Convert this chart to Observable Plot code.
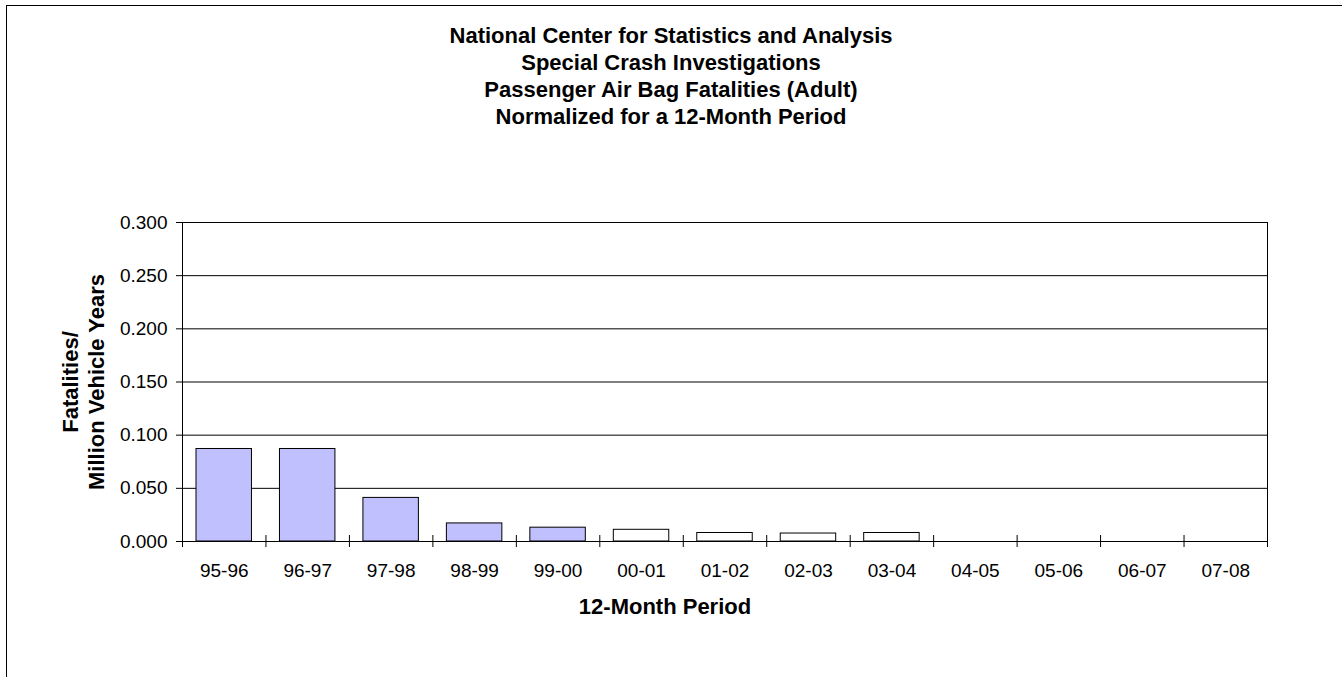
<!DOCTYPE html>
<html>
<head>
<meta charset="utf-8">
<script src="https://cdn.jsdelivr.net/npm/d3@7"></script>
<script src="https://cdn.jsdelivr.net/npm/@observablehq/plot@0.6"></script>
<style>
  body { margin: 0; background: #fff; }
  #wrap { position: relative; width: 1342px; height: 677px; overflow: hidden; font-family: "Liberation Sans", Arial, sans-serif; color: #000; }
  #frame { position: absolute; left: 6px; top: 5px; width: 1500px; height: 900px; border-left: 1.5px solid #000; border-top: 1.5px solid #000; }
  #title { position: absolute; left: 0; top: 22px; width: 1342px; text-align: center; font-weight: bold; font-size: 22px; line-height: 27px; }
  #xlabel { position: absolute; left: 465px; width: 400px; top: 596px; text-align: center; font-weight: bold; font-size: 22px; line-height: 22px; }
  #chart { position: absolute; left: 0; top: 0; }
</style>
</head>
<body>
<div id="wrap">
  <div id="frame"></div>
  <div id="chart"></div>
  <div id="title"></div>
  <div id="xlabel"></div>
</div>
<script>
const titleLines = [
  "National Center for Statistics and Analysis",
  "Special Crash Investigations",
  "Passenger Air Bag Fatalities (Adult)",
  "Normalized for a 12-Month Period"
];
const xAxisTitle = "12-Month Period";
const yAxisTitle = "Fatalities/\nMillion Vehicle Years";
const categories = ["95-96","96-97","97-98","98-99","99-00","00-01","01-02","02-03","03-04","04-05","05-06","06-07","07-08"];
const values = [0.087, 0.087, 0.041, 0.017, 0.013, 0.011, 0.008, 0.0075, 0.008, 0, 0, 0, 0];
const yTicks = [0, 0.05, 0.1, 0.15, 0.2, 0.25, 0.3];

const rows = categories.map((c, i) => ({ i, category: c, value: values[i] }));
const boundaries = d3.range(categories.length + 1);
const fillFor = d => d.i < 5 ? "#c0c0ff" : "#ffffff";

document.getElementById("title").innerHTML = titleLines.join("<br>");
document.getElementById("xlabel").textContent = xAxisTitle;

const chart = Plot.plot({
  width: 1342,
  height: 677,
  marginLeft: 182,
  marginRight: 75,
  marginTop: 222,
  marginBottom: 136,
  style: { background: "transparent", fontFamily: "Liberation Sans, Arial, sans-serif", color: "#000" },
  x: { type: "linear", domain: [0, categories.length], axis: null },
  y: { domain: [0, 0.3], axis: null },
  marks: [
    Plot.gridY(yTicks, { stroke: "#000", strokeOpacity: 1 }),
    Plot.axisY({ ticks: yTicks, tickFormat: d3.format(".3f"), tickSize: 6, tickPadding: 9, fontSize: 19, label: null, stroke: "#000" }),
    Plot.rect(rows.filter(d => d.value > 0), {
      x1: "i", x2: d => d.i + 1, y1: 0, y2: "value",
      insetLeft: 14, insetRight: 14,
      fill: fillFor, stroke: "#000", strokeWidth: 1
    }),
    Plot.ruleX([0, categories.length], { stroke: "#000" }),
    Plot.ruleY([0], { stroke: "#000" }),
    Plot.ruleX(boundaries, { y1: 0, y2: 0, insetTop: -6, insetBottom: -6, stroke: "#000" }),
    Plot.text(rows, { x: d => d.i + 0.5, frameAnchor: "bottom", dy: 35, text: "category", fontSize: 19, fill: "#000" }),
    Plot.text([yAxisTitle], { frameAnchor: "left", textAnchor: "middle", dx: -100, rotate: -90, text: d => d, fontSize: 22, fontWeight: "bold", lineHeight: 1.2, fill: "#000" })
  ]
});
document.getElementById("chart").appendChild(chart);
</script>
</body>
</html>
